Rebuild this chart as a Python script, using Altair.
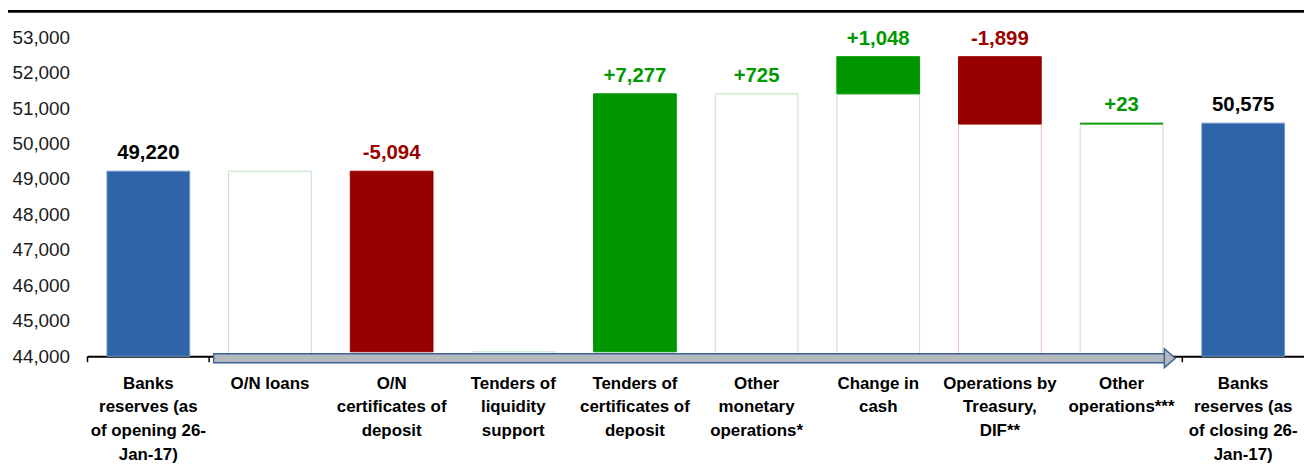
import altair as alt
import pandas as pd

categories = [
    "Banks\nreserves (as\nof opening 26-\nJan-17)",
    "O/N loans",
    "O/N\ncertificates of\ndeposit",
    "Tenders of\nliquidity\nsupport",
    "Tenders of\ncertificates of\ndeposit",
    "Other\nmonetary\noperations*",
    "Change in\ncash",
    "Operations by\nTreasury,\nDIF**",
    "Other\noperations***",
    "Banks\nreserves (as\nof closing 26-\nJan-17)",
]
kinds = ["total", "zero", "down", "zero", "up", "up", "up", "down", "up", "total"]
value_labels = ["49,220", "", "-5,094", "", "+7,277", "+725", "+1,048", "-1,899", "+23", "50,575"]
bar_low = [44000, None, 44126, None, 44126, None, 51403, 50552, 50552, 44000]
bar_high = [49220, None, 49220, None, 51403, None, 52451, 52451, 50575, 50575]
base_top = [None, 49220, None, 44126, None, 51403, 51403, 50552, 50552, None]
y_ticks = [44000, 45000, 46000, 47000, 48000, 49000, 50000, 51000, 52000, 53000]
y_floor = 44000

df = pd.DataFrame({
    "cat": categories,
    "kind": kinds,
    "label": value_labels,
    "low": bar_low,
    "high": bar_high,
    "base": base_top,
})
df["top"] = df[["high", "base"]].max(axis=1)

FONT = "Liberation Sans"

xscale = alt.Scale(paddingInner=0.32, paddingOuter=0.16)
yscale = alt.Scale(domain=[44000, 53000], nice=False, zero=False)

x_axis = alt.Axis(
    title=None, labelExpr="split(datum.label, '\\n')", labelAngle=0,
    ticks=False, domainColor="black", domainWidth=2,
    labelFont=FONT, labelFontWeight="bold", labelFontSize=17,
    labelLineHeight=24, labelPadding=19, labelColor="black",
    labelBaseline="top", labelLimit=300, grid=False,
)
y_axis = alt.Axis(
    title=None, values=y_ticks, format=",d", domain=False, ticks=False,
    grid=False, labelFont=FONT, labelFontSize=19, labelPadding=18,
    labelColor="#1a1a1a",
)


def X():
    return alt.X("cat:N", sort=categories, scale=xscale, axis=x_axis)


def Y(field):
    return alt.Y(field, scale=yscale, axis=y_axis)


base = alt.Chart(df)

base_green = base.transform_filter(
    "isValid(datum.base) && datum.kind != 'down'"
).mark_bar(fill="white", stroke="#BFE3BF", strokeWidth=1).encode(
    x=X(), y=Y("base:Q"), y2=alt.datum(y_floor),
)

base_red = base.transform_filter(
    "isValid(datum.base) && datum.kind == 'down'"
).mark_bar(fill="white", stroke="#EBC2C2", strokeWidth=1).encode(
    x=X(), y=Y("base:Q"), y2=alt.datum(y_floor),
)

delta = base.transform_filter("isValid(datum.high)").mark_bar(strokeWidth=1).encode(
    x=X(),
    y=Y("high:Q"),
    y2="low:Q",
    fill=alt.Fill("kind:N", scale=alt.Scale(domain=["total", "up", "down"],
                                             range=["#2E65A9", "#009600", "#960000"]), legend=None),
    stroke=alt.Stroke("kind:N", scale=alt.Scale(domain=["total", "up", "down"],
                                                 range=["#7196C8", "#009600", "#960000"]), legend=None),
)

labels = base.transform_filter("datum.label != ''").mark_text(
    font=FONT, fontWeight="bold", fontSize=20.5, baseline="alphabetic", dy=-12
).encode(
    x=X(),
    y=Y("top:Q"),
    text="label:N",
    color=alt.Color("kind:N", scale=alt.Scale(domain=["total", "up", "down"],
                                               range=["#000000", "#009900", "#990000"]), legend=None),
)

ticks = base.mark_rule(color="black", strokeWidth=1.5, xOffset=-19.6).encode(
    x=alt.X("cat:N", sort=categories, scale=xscale, axis=x_axis, bandPosition=0),
    y=alt.value(321),
    y2=alt.value(327),
)

one = alt.Data(values=[{"a": 1}])
arrow_body = alt.Chart(one).mark_rect(
    fill="#B4B9C0", stroke="#3E6494", strokeWidth=1.5
).encode(x=alt.value(127), x2=alt.value(1084), y=alt.value(318.5), y2=alt.value(327.5))

arrow_head = alt.Chart(one).mark_point(
    shape="M-0.58,-1L0.58,0L-0.58,1Z", filled=True, fill="#B4B9C0",
    stroke="#3E6494", strokeWidth=1.5, size=361, opacity=1
).encode(x=alt.value(1089), y=alt.value(323))

top_line = alt.Chart(one).mark_rule(color="black", strokeWidth=3).encode(
    x=alt.value(-80), x2=alt.value(1224), y=alt.value(-26)
)

chart = alt.layer(
    base_green, base_red, delta, labels, ticks, arrow_body, arrow_head, top_line
).properties(
    width=1224, height=321,
    padding={"left": 80, "top": 28, "right": 0, "bottom": 106},
    autosize=alt.AutoSizeParams(type="none"),
    background="white",
).resolve_scale(
    fill="independent", stroke="independent", color="independent"
).configure_view(stroke=None)

chart.save("out.html", embed_options={"renderer": "svg", "actions": False})
